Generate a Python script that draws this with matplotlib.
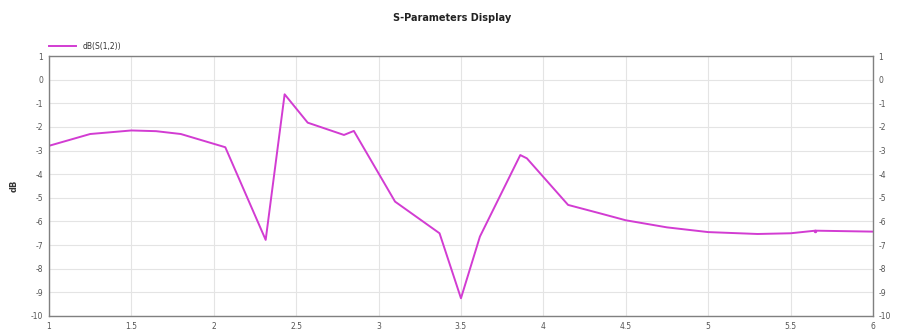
import numpy as np
import matplotlib.pyplot as plt

# S21 magnitude sweep, frequency vs dB
freq = [1.0, 1.25, 1.5, 1.65, 1.8, 2.07, 2.315, 2.43, 2.57, 2.79, 2.85,
        3.10, 3.37, 3.50, 3.615, 3.86, 3.90, 4.15, 4.34, 4.5, 4.75,
        5.0, 5.3, 5.5, 5.65, 6.0]
s21_db = [-2.8, -2.3, -2.15, -2.18, -2.3, -2.86, -6.78, -0.62, -1.82, -2.34,
          -2.17, -5.16, -6.5, -9.25, -6.64, -3.19, -3.33, -5.3, -5.65, -5.95,
          -6.25, -6.45, -6.53, -6.5, -6.39, -6.43]

yticks = list(range(1, -11, -1))
xticks = [1, 1.5, 2, 2.5, 3, 3.5, 4, 4.5, 5, 5.5, 6]
xtick_labels = ['1', '1.5', '2', '2.5', '3', '3.5', '4', '4.5', '5', '5.5', '6']

plt.rcParams['font.family'] = ['DejaVu Sans']
plt.rcParams['axes.unicode_minus'] = False
fig = plt.figure(figsize=(9.05, 3.34), dpi=100)
ax = fig.add_axes([0.0541, 0.0539, 0.9105, 0.7784])

line_col = '#d23cd2'
ax.plot(freq, s21_db, color=line_col, lw=1.4, label='dB(S(1,2))')
ax.plot([5.65], [-6.39], marker='.', ms=3, color=line_col)

ax.set_xlim(1, 6)
ax.set_ylim(-10, 1)
ax.set_xticks(xticks)
ax.set_xticklabels(xtick_labels)
ax.set_yticks(yticks)
ax.grid(True, color='#e4e4e4', lw=0.8)
ax.set_axisbelow(True)
for s in ax.spines.values():
    s.set_color('#808080')
    s.set_linewidth(1.0)
ax.tick_params(labelsize=5.5, colors='#555555', length=0, pad=4)

ax2 = ax.twinx()
ax2.set_ylim(-10, 1)
ax2.set_yticks(yticks)
ax2.tick_params(labelsize=5.5, colors='#555555', length=0, pad=4)
for s in ax2.spines.values():
    s.set_visible(False)

ax.set_ylabel('dB', fontsize=6, fontweight='bold', color='#333333', labelpad=9)
fig.text(0.5, 0.945, 'S-Parameters Display', ha='center', va='center',
         fontsize=7, fontweight='bold', color='#222222')

leg = ax.legend(loc='lower left', bbox_to_anchor=(-0.006, 1.0), frameon=False,
                fontsize=5.5, handlelength=3.5, borderaxespad=0.3)
for t in leg.get_texts():
    t.set_color('#333333')

fig.savefig('out.png', dpi=100)
